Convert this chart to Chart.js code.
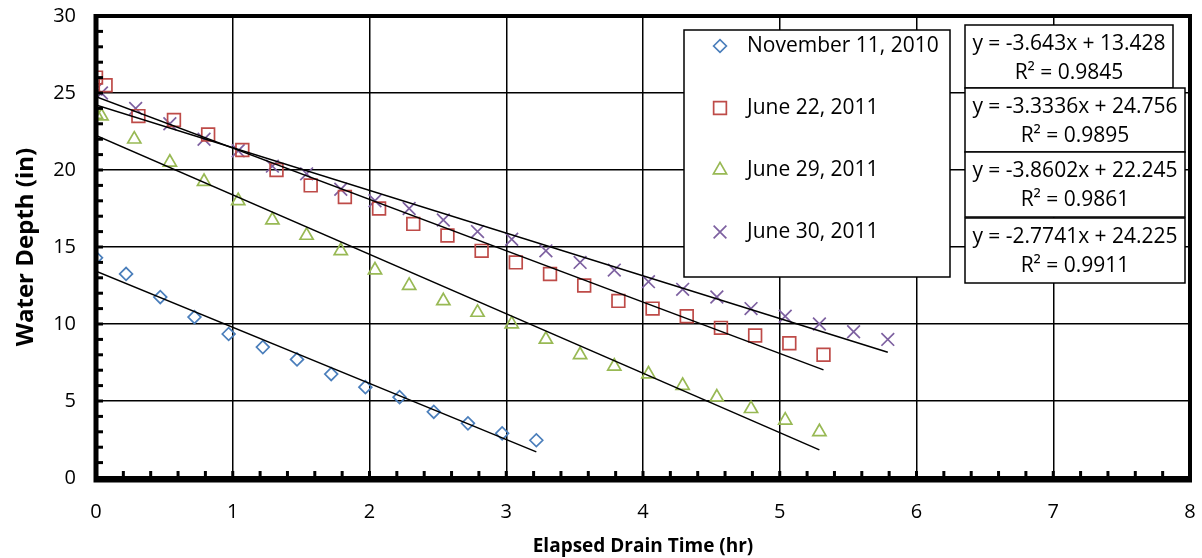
<!DOCTYPE html>
<html>
<head>
<meta charset="utf-8">
<script src="https://cdn.jsdelivr.net/npm/chart.js@4/dist/chart.umd.min.js"></script>
<style>
  body { margin: 0; background: #fff; }
  canvas { display: block; }
</style>
</head>
<body>
<canvas id="drainChart" width="1202" height="558"></canvas>
<script>
// series
var seriesNames = ['November 11, 2010', 'June 22, 2011', 'June 29, 2011', 'June 30, 2011'];

var novX = [0, 0.22, 0.47, 0.72, 0.97, 1.22, 1.47, 1.72, 1.97, 2.22, 2.47, 2.72, 2.97, 3.22];
var novY = [14.3, 13.25, 11.75, 10.45, 9.35, 8.5, 7.7, 6.75, 5.9, 5.25, 4.3, 3.55, 2.9, 2.45];

var jun22X = [0, 0.07, 0.31, 0.57, 0.82, 1.07, 1.32, 1.57, 1.82, 2.07, 2.32, 2.57, 2.82, 3.07, 3.32, 3.57, 3.82, 4.07, 4.32, 4.57, 4.82, 5.07, 5.32];
var jun22Y = [26.0, 25.5, 23.5, 23.25, 22.3, 21.3, 20.0, 19.0, 18.25, 17.5, 16.5, 15.75, 14.75, 14.0, 13.25, 12.5, 11.5, 11.0, 10.5, 9.75, 9.25, 8.75, 8.0];

var jun29X = [0, 0.04, 0.28, 0.54, 0.79, 1.04, 1.29, 1.54, 1.79, 2.04, 2.29, 2.54, 2.79, 3.04, 3.29, 3.54, 3.79, 4.04, 4.29, 4.54, 4.79, 5.04, 5.29];
var jun29Y = [23.6, 23.5, 22.0, 20.5, 19.25, 18.0, 16.75, 15.75, 14.75, 13.5, 12.5, 11.5, 10.75, 10.0, 9.0, 8.0, 7.25, 6.75, 6.0, 5.25, 4.5, 3.75, 3.0];

var jun30X = [0, 0.04, 0.29, 0.54, 0.79, 1.04, 1.29, 1.54, 1.79, 2.04, 2.29, 2.54, 2.79, 3.04, 3.29, 3.54, 3.79, 4.04, 4.29, 4.54, 4.79, 5.04, 5.29, 5.54, 5.79];
var jun30Y = [25.25, 25.0, 24.0, 23.0, 22.0, 21.25, 20.25, 19.75, 18.75, 18.0, 17.5, 16.75, 16.0, 15.5, 14.75, 14.0, 13.5, 12.75, 12.25, 11.75, 11.0, 10.5, 10.0, 9.5, 9.0];

// linear trendline coefficients shown on the chart
var slopes = [-3.643, -3.3336, -3.8602, -2.7741];
var intercepts = [13.428, 24.756, 22.245, 24.225];
var rSquared = ['0.9845', '0.9895', '0.9861', '0.9911'];

var colors = ['#4a7ebb', '#be4b48', '#98b954', '#7d60a0'];
var pointStyles = ['rectRot', 'rect', 'triangle', 'crossRot'];
var pointSizes = [6.4, 9, 7.6, 9];

var xs = [novX, jun22X, jun29X, jun30X];
var ys = [novY, jun22Y, jun29Y, jun30Y];

const FONT = "'Open Sans', sans-serif";

function pairs(x, y) {
    return x.map((v, i) => ({ x: v, y: y[i] }));
}

const datasets = [];
for (let i = 0; i < 4; i++) {
    const lo = Math.min(...xs[i]);
    const hi = Math.max(...xs[i]);
    datasets.push({
        type: 'line',
        label: 'trend ' + i,
        data: [{ x: lo, y: slopes[i] * lo + intercepts[i] }, { x: hi, y: slopes[i] * hi + intercepts[i] }],
        borderColor: '#000',
        borderWidth: 1.5,
        pointRadius: 0,
        fill: false
    });
}
for (let i = 0; i < 4; i++) {
    datasets.push({
        type: 'scatter',
        label: seriesNames[i],
        data: pairs(xs[i], ys[i]),
        pointStyle: pointStyles[i],
        pointRadius: pointSizes[i],
        borderColor: colors[i],
        backgroundColor: 'rgba(0,0,0,0)',
        pointBorderWidth: 1.7
    });
}

// frame, minor ticks, legend and equation boxes
const decorations = {
    id: 'decorations',
    afterDatasetsDraw(chart) {
        const ctx = chart.ctx;
        const a = chart.chartArea;
        const xs_ = chart.scales.x, ys_ = chart.scales.y;
        ctx.save();
        ctx.strokeStyle = '#000';
        ctx.fillStyle = '#000';

        // minor ticks
        ctx.lineWidth = 3;
        for (let v = 0; v <= 8.001; v += 0.2) {
            const px = xs_.getPixelForValue(v);
            ctx.beginPath();
            ctx.moveTo(px, a.bottom);
            ctx.lineTo(px, a.bottom - 7);
            ctx.stroke();
        }
        for (let v = 0; v <= 30.001; v += 1) {
            const py = ys_.getPixelForValue(v);
            ctx.beginPath();
            ctx.moveTo(a.left, py);
            ctx.lineTo(a.left + 7, py);
            ctx.stroke();
        }

        // plot frame
        ctx.lineWidth = 4;
        ctx.strokeRect(a.left, a.top, a.right - a.left, a.bottom - a.top);
        ctx.lineWidth = 5;
        ctx.beginPath();
        ctx.moveTo(a.left, a.top - 2);
        ctx.lineTo(a.left, a.bottom + 2);
        ctx.lineTo(a.right + 2, a.bottom + 2);
        ctx.stroke();

        // legend box
        ctx.lineWidth = 1.5;
        ctx.fillStyle = '#fff';
        ctx.fillRect(684, 30, 266, 247);
        ctx.strokeRect(684, 30, 266, 247);
        ctx.font = '21px ' + FONT;
        ctx.textBaseline = 'middle';
        ctx.textAlign = 'left';
        for (let i = 0; i < 4; i++) {
            const cy = 46 + i * 62;
            ctx.strokeStyle = colors[i];
            ctx.fillStyle = 'rgba(0,0,0,0)';
            ctx.lineWidth = 1.7;
            Chart.helpers.drawPoint(ctx, {
                pointStyle: pointStyles[i],
                radius: pointSizes[i],
                borderWidth: 1.7
            }, 720, cy);
            ctx.fillStyle = '#000';
            ctx.fillText(seriesNames[i], 747, cy);
        }

        // equation boxes
        const boxes = [[965, 25, 208, 63], [965, 88, 220, 64], [965, 152, 220, 65], [965, 218, 220, 65]];
        ctx.textAlign = 'center';
        for (let i = 0; i < 4; i++) {
            const b = boxes[i];
            ctx.fillStyle = '#fff';
            ctx.fillRect(b[0], b[1], b[2], b[3]);
            ctx.strokeStyle = '#000';
            ctx.lineWidth = 1.5;
            ctx.strokeRect(b[0], b[1], b[2], b[3]);
            ctx.fillStyle = '#000';
            const eq = 'y = ' + slopes[i] + 'x + ' + intercepts[i];
            ctx.fillText(eq, b[0] + b[2] / 2, b[1] + 19);
            ctx.fillText('R\u00b2 = ' + rSquared[i], b[0] + b[2] / 2, b[1] + 48);
        }
        ctx.restore();
    }
};

const ctx = document.getElementById('drainChart').getContext('2d');
new Chart(ctx, {
    type: 'scatter',
    data: { datasets: datasets },
    plugins: [decorations],
    options: {
        responsive: false,
        animation: false,
        layout: { padding: { top: 16, right: 12, left: 0, bottom: 0 } },
        plugins: {
            legend: { display: false },
            tooltip: { enabled: false }
        },
        scales: {
            x: {
                type: 'linear',
                min: 0,
                max: 8,
                ticks: { stepSize: 1, color: '#000', font: { family: FONT, size: 20 }, padding: 22 },
                grid: { color: '#000', lineWidth: 1.5, drawTicks: false },
                border: { display: false },
                title: {
                    display: true,
                    text: 'Elapsed Drain Time (hr)',
                    color: '#000',
                    font: { family: FONT, size: 19, weight: 'bold' },
                    padding: { top: 2, bottom: 0 }
                },
                afterFit(scale) {
                    scale.height = 80;
                    scale.paddingLeft = 0;
                    scale.paddingRight = 0;
                }
            },
            y: {
                type: 'linear',
                min: 0,
                max: 30,
                ticks: { stepSize: 5, color: '#000', font: { family: FONT, size: 20 }, padding: 20 },
                grid: { color: '#000', lineWidth: 1.5, drawTicks: false },
                border: { display: false },
                title: {
                    display: true,
                    text: 'Water Depth (in)',
                    color: '#000',
                    font: { family: FONT, size: 24, weight: 'bold' },
                    padding: { top: 12, bottom: 2 }
                },
                afterFit(scale) {
                    scale.width = 96;
                    scale.paddingTop = 0;
                    scale.paddingBottom = 0;
                }
            }
        }
    }
});
</script>
</body>
</html>
